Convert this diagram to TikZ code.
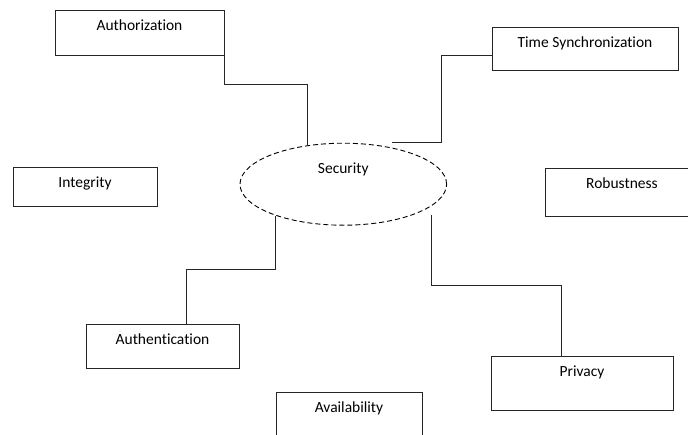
\documentclass[tikz,border=0pt]{standalone}
\usepackage{fontspec}
\setmainfont[Ligatures=NoCommon]{Carlito}
\usetikzlibrary{shapes.geometric}
\tikzset{
    topic/.style={draw=black!85,line width=0.8pt,inner xsep=0pt,inner ysep=0pt,
        text height=20.5pt,font=\fontsize{15.5}{18}\selectfont},
    link/.style={draw=black!85,line width=0.8pt}
}
\begin{document}
\begin{tikzpicture}[x=1pt,y=-1pt]
    \clip (0,0) rectangle (688,434);

    \node[ellipse,draw=black,line width=0.9pt,dash pattern=on 5pt off 3pt,
        minimum width=206.6pt,minimum height=82pt,inner sep=0pt,
        text height=10pt,text depth=31.4pt,font=\fontsize{15.5}{18}\selectfont]
        (sec) at (343.3,184.2) {Security};

    \node[topic,minimum width=169pt,text depth=24.5pt] (authz) at (139.5,32.5) {Authorization};
    \node[topic,minimum width=186pt,text depth=22.5pt] (tsync) at (585,48.5) {Time Synchronization};
    \node[topic,minimum width=144pt,text depth=18.5pt] (integ) at (85,186.5) {Integrity};
    \node[topic,minimum width=154pt,text depth=27.5pt] (robust) at (622,192) {Robustness};
    \node[topic,minimum width=153pt,text depth=23.5pt] (authn) at (162.5,346) {Authentication};
    \node[topic,minimum width=182pt,text depth=33.5pt] (priv) at (582,383) {Privacy};
    \node[topic,minimum width=146pt,text depth=29.5pt] (avail) at (349,417) {Availability};

    \path[coordinate] (392,142) coordinate(tsend)
                      (431,215) coordinate(privend);

    \draw[link] (authz.south east) -- ++(0,29) -| (sec.133);
    \draw[link] ([yshift=-6.5pt]tsync.west) -- ++(-50,0) |- (tsend);
    \draw[link] ([xshift=23.5pt]authn.north) -- ++(0,-54) -| (sec.205);
    \draw[link] ([xshift=-21pt]priv.north) -- ++(0,-70) -| (privend);

\end{tikzpicture}
\end{document}
